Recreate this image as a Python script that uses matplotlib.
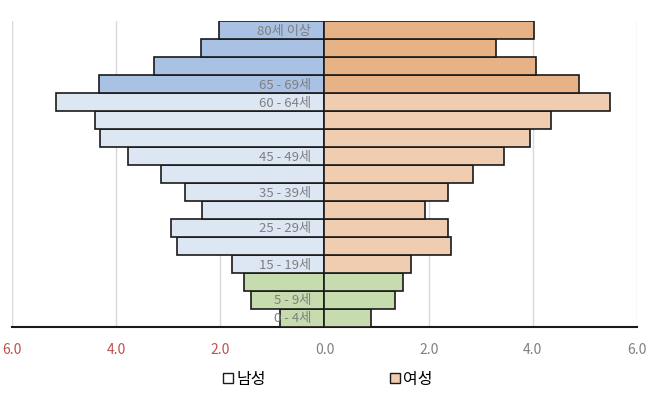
import matplotlib
matplotlib.use("Agg")
import matplotlib.pyplot as plt
import numpy as np
from matplotlib.patches import Patch

plt.rcParams['font.family'] = ['Noto Sans CJK KR', 'DejaVu Sans']

# age groups from bottom (0-4) to top (80+)
ages = ['0 - 4세', '5 - 9세', '10 - 14세', '15 - 19세', '20 - 24세', '25 - 29세',
        '30 - 34세', '35 - 39세', '40 - 44세', '45 - 49세', '50 - 54세', '55 - 59세',
        '60 - 64세', '65 - 69세', '70 - 74세', '75 - 79세', '80세 이상']
shown = ['0 - 4세', '5 - 9세', '15 - 19세', '25 - 29세', '35 - 39세',
         '45 - 49세', '60 - 64세', '65 - 69세', '80세 이상']
male = [0.86, 1.41, 1.55, 1.78, 2.83, 2.95, 2.35, 2.67, 3.14, 3.78, 4.31, 4.41,
        5.16, 4.33, 3.27, 2.38, 2.02]
female = [0.90, 1.35, 1.51, 1.67, 2.42, 2.38, 1.93, 2.38, 2.86, 3.45, 3.95, 4.35,
          5.48, 4.89, 4.06, 3.30, 4.03]
xticks = [-6, -4, -2, 0, 2, 4, 6]
xticklabels = ['6.0', '4.0', '2.0', '0.0', '2.0', '4.0', '6.0']

def male_col(i):
    if i < 3: return '#c6dbae'
    if i < 13: return '#dde7f4'
    return '#a9c1e2'

def female_col(i):
    if i < 3: return '#c6dbae'
    if i < 13: return '#f0cdb0'
    return '#e8b287'

y = np.arange(len(ages))
fig = plt.figure(figsize=(6.58, 4.06), dpi=100)
ax = fig.add_axes([12/658, 78/406, 625/658, 306/406])

ax.barh(y, [-v for v in male], height=1.0, color=[male_col(i) for i in y],
        edgecolor='#1a1a1a', linewidth=1.2, zorder=3)
ax.barh(y, female, height=1.0, color=[female_col(i) for i in y],
        edgecolor='#1a1a1a', linewidth=1.2, zorder=3)

for i, a in enumerate(ages):
    if a in shown:
        ax.text(-0.25, i, a, ha='right', va='center', fontsize=9.5,
                color='#7f7f7f', zorder=4)

ax.set_xlim(-6, 6)
ax.set_ylim(-0.5, len(ages) - 0.5)
ax.set_xticks(xticks)
ax.set_xticklabels(xticklabels, fontsize=10)
for lab, v in zip(ax.get_xticklabels(), xticks):
    lab.set_color('#c0504d' if v < 0 else '#808080')
ax.tick_params(axis='x', length=0, pad=11)
ax.set_yticks([])
ax.grid(axis='x', color='#d9d9d9', linewidth=1, zorder=0)
for s in ['top', 'left', 'right']:
    ax.spines[s].set_visible(False)
ax.spines['bottom'].set_color('#1a1a1a')
ax.spines['bottom'].set_linewidth(1.5)

handles = [Patch(facecolor='white', edgecolor='#1a1a1a', label='남성'),
           Patch(facecolor='#f0cdb0', edgecolor='#1a1a1a', label='여성')]
fig.legend(handles=handles, loc='center', bbox_to_anchor=(328/658, 26/406), ncol=2,
           frameon=False, fontsize=11.5, handlelength=0.6, handleheight=0.6,
           handletextpad=0.2, columnspacing=7.8)

fig.savefig('out.png', dpi=100)
